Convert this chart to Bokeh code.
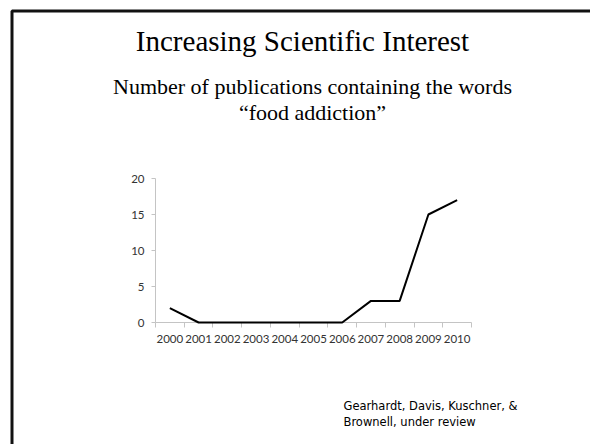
from bokeh.plotting import figure
from bokeh.models import Range1d, FixedTicker, Label, BoxAnnotation
from bokeh.embed import file_html
from bokeh.resources import INLINE

years = [2000, 2001, 2002, 2003, 2004, 2005, 2006, 2007, 2008, 2009, 2010]
year_labels = [str(y) for y in years]
publications = [2, 0, 0, 0, 0, 0, 0, 3, 3, 15, 17]
y_ticks = [0, 5, 10, 15, 20]

title_text = "Increasing Scientific Interest"
subtitle_lines = ["Number of publications containing the words", "\u201cfood addiction\u201d"]
citation_lines = ["Gearhardt, Davis, Kuschner, &", "Brownell, under review"]

W, H = 590, 444
# chart box in canvas pixels
CL, CR, CT, CB = 155, 471, 178, 322
x0, x1 = years[0] - 0.5, years[-1] + 0.5
y0, y1 = y_ticks[0], y_ticks[-1]
kx = (CR - CL) / (x1 - x0)
ky = (CB - CT) / (y1 - y0)

p = figure(width=W, height=H, output_backend="svg", toolbar_location=None,
           x_range=Range1d(x0 - CL / kx, x1 + (W - CR) / kx),
           y_range=Range1d(y0 - (H - CB) / ky, y1 + CT / ky),
           min_border=0)
p.outline_line_color = None
p.xgrid.visible = False
p.ygrid.visible = False
p.background_fill_color = "white"
p.border_fill_color = "white"


def dx(cx):
    return x0 + (cx - CL) / kx


def dy(cy):
    return y0 + (CB - cy) / ky


p.line(years, publications, line_color="black", line_width=2)

tick_font = "Lato"
axis_grey = "#c4c4c4"
xa = p.xaxis[0]
xa.level = "underlay"
xa.fixed_location = y0
xa.bounds = (x0, x1)
xa.ticker = FixedTicker(ticks=years, minor_ticks=[y - 0.5 for y in years] + [years[-1] + 0.5])
xa.major_label_overrides = {y: l for y, l in zip(years, year_labels)}
xa.major_tick_in = 0
xa.major_tick_out = 0
xa.minor_tick_in = 0
xa.minor_tick_out = 5
xa.minor_tick_line_color = axis_grey
xa.axis_line_color = axis_grey
xa.major_label_text_font = tick_font
xa.major_label_text_font_size = "11.5px"
xa.major_label_text_color = "#333333"
xa.major_label_standoff = 7

ya = p.yaxis[0]
ya.level = "underlay"
ya.fixed_location = x0
ya.bounds = (y0, y1)
ya.ticker = FixedTicker(ticks=y_ticks)
ya.major_tick_in = 0
ya.major_tick_out = 4
ya.minor_tick_in = 0
ya.minor_tick_out = 0
ya.major_tick_line_color = axis_grey
ya.axis_line_color = axis_grey
ya.major_label_text_font = tick_font
ya.major_label_text_font_size = "11.5px"
ya.major_label_text_color = "#333333"
ya.major_label_standoff = 7


def add_text(txt, cx, cy, font, size, align="center"):
    p.add_layout(Label(x=dx(cx), y=dy(cy), text=txt, text_font=font, text_font_size=size,
                       text_align=align, text_baseline="middle", text_color="black"))


add_text(title_text, 302, 40, "Liberation Serif", "29px")
add_text(subtitle_lines[0], 312, 86, "Liberation Serif", "22px")
add_text(subtitle_lines[1], 312, 112, "Liberation Serif", "22px")
add_text(citation_lines[0], 343, 405, "DejaVu Sans", "11.5px", "left")
add_text(citation_lines[1], 343, 421, "DejaVu Sans", "11.5px", "left")

# slide border (left and top edges visible)
p.add_layout(BoxAnnotation(left=dx(11.5), right=dx(640), top=dy(10.5), bottom=dy(500),
                           fill_color=None, fill_alpha=0, line_color="#111111",
                           line_alpha=1.0, line_width=3))

open("out.html", "w").write(file_html(p, INLINE))
